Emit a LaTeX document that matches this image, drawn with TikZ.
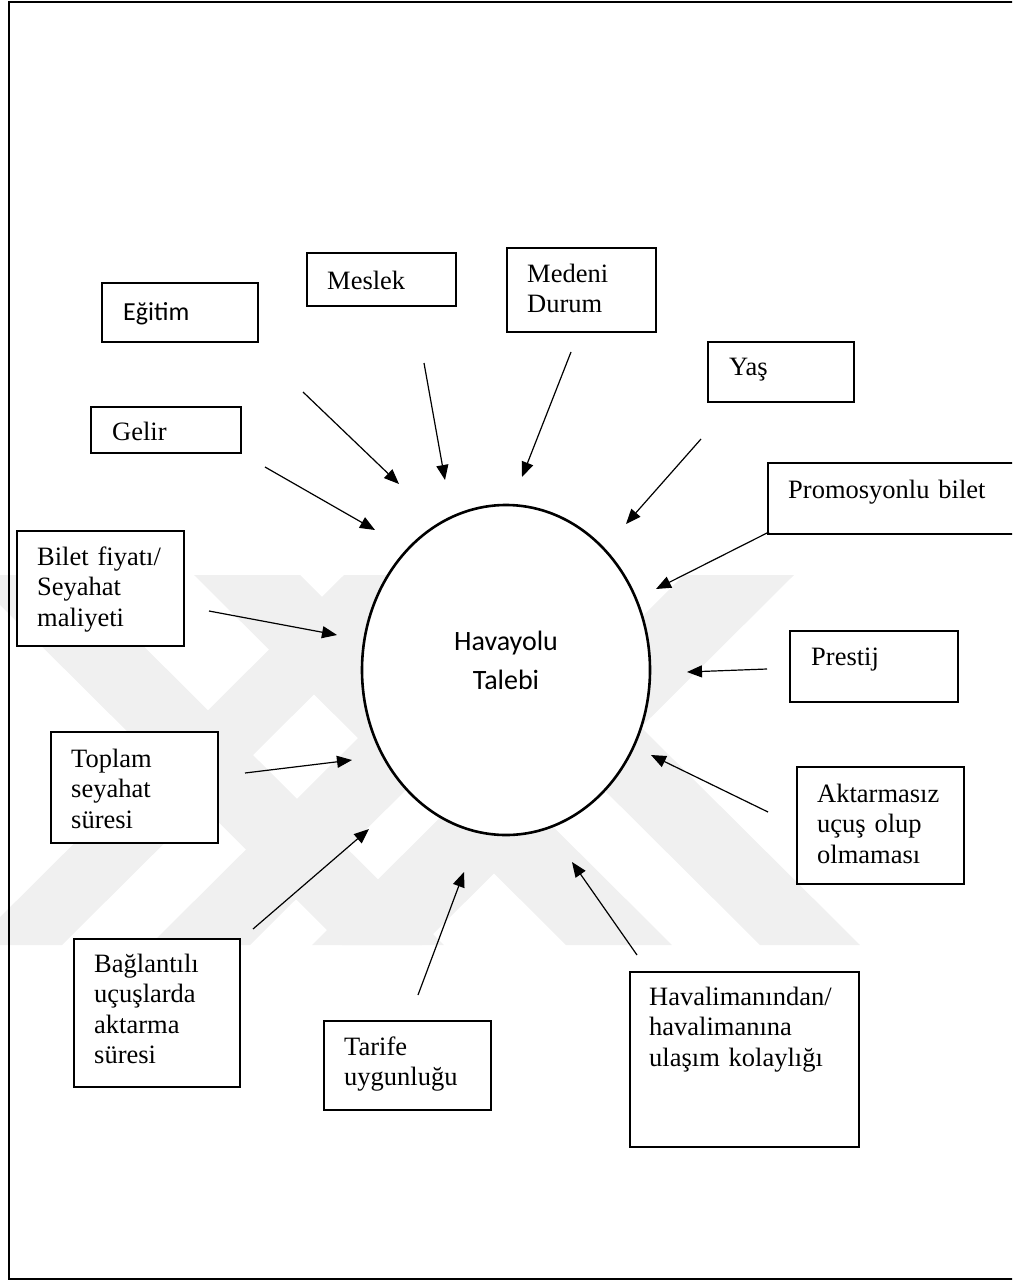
\documentclass[tikz,border=0pt]{standalone}
\usepackage{fontspec}
\setmainfont{Liberation Serif}
\newfontfamily\calib{Carlito}
\usetikzlibrary{arrows.meta,shapes.geometric}
\tikzset{
  box/.style={draw=black, line width=1.3pt, fill=white},
  lbl/.style={anchor=base west, inner sep=0pt, text width=240pt, align=left,
              font=\fontsize{26.5}{30.5}\selectfont},
  arr/.style={line width=1.2pt, -{Triangle[length=15pt,width=12pt]}},
  wm/.style={fill=black!6, draw=none}
}
\begin{document}
\begin{tikzpicture}[x=1pt,y=-1pt]
\useasboundingbox (0,0) rectangle (1012,1281);
\clip (0,0) rectangle (1012,1281);
% watermark (approximate)
\begin{scope}
\clip (0,575) rectangle (1012,945);
\fill[wm] (-30,575) -- (72,575) -- (444,945) -- (342,945) -- cycle;
\fill[wm] (194,575) -- (300,575) -- (672,945) -- (566,945) -- cycle;
\fill[wm] (388,575) -- (488,575) -- (860,945) -- (760,945) -- cycle;
\fill[wm] (-28,945) -- (62,945) -- (434,575) -- (344,575) -- cycle;
\fill[wm] (150,945) -- (250,945) -- (622,575) -- (522,575) -- cycle;
\fill[wm] (312,945) -- (422,945) -- (794,575) -- (684,575) -- cycle;
\end{scope}
% frame
\draw[line width=1.6pt] (1020,2) -- (9,2) -- (9,1279) -- (1020,1279);
% centre
\node[draw, line width=2.6pt, ellipse, fill=white, minimum width=288pt, minimum height=330pt, inner sep=0pt] (hv) at (506,670) {};
\node[inner sep=0pt, align=center, font=\calib\fontsize{28}{39}\selectfont] (hvt) at (506,660) {Havayolu\\Talebi};
% boxes
\draw[box] (102,283) rectangle (258,342) node[pos=0.5] (egb) {};
\node[anchor=base west, inner sep=0pt, font=\calib\fontsize{26}{30}\selectfont] (egt) at (123,320) {Eğitim};
\draw[box] (307,253) rectangle (456,306) node[pos=0.5] (msb) {};
\node[lbl] (mst) at (327,289) {Meslek};
\draw[box] (91,407) rectangle (241,453) node[pos=0.5] (glb) {};
\node[lbl] (glt) at (112,440) {Gelir};
\draw[box] (507,248) rectangle (656,332) node[pos=0.5] (mdb) {};
\node[lbl] (mdt) at (527,282) {Medeni\\Durum};
\draw[box] (708,342) rectangle (854,402) node[pos=0.5] (ysb) {};
\node[lbl] (yst) at (729,375) {Yaş};
\draw[box] (768,463) rectangle (1030,534) node[pos=0.5] (prb) {};
\node[lbl] (prt) at (788,498) {Promosyonlu bilet};
\draw[box] (17,531) rectangle (184,646) node[pos=0.5] (bfb) {};
\node[lbl] (bft) at (37,565) {Bilet fiyatı/\\Seyahat\\maliyeti};
\draw[box] (51,732) rectangle (218,843) node[pos=0.5] (tsb) {};
\node[lbl] (tst) at (71,767) {Toplam\\seyahat\\süresi};
\draw[box] (790,631) rectangle (958,702) node[pos=0.5] (psb) {};
\node[lbl] (pst) at (811,665) {Prestij};
\draw[box] (797,767) rectangle (964,884) node[pos=0.5] (akb) {};
\node[lbl] (akt) at (817,802) {Aktarmasız\\uçuş olup\\olmaması};
\draw[box] (74,939) rectangle (240,1087) node[pos=0.5] (bgb) {};
\node[lbl] (bgt) at (94,972) {Bağlantılı\\uçuşlarda\\aktarma\\süresi};
\draw[box] (324,1021) rectangle (491,1110) node[pos=0.5] (tfb) {};
\node[lbl] (tft) at (344,1055) {Tarife\\uygunluğu};
\draw[box] (630,972) rectangle (859,1147) node[pos=0.5] (hlb) {};
\node[lbl] (hlt) at (649,1005) {Havalimanından/\\havalimanına\\ulaşım kolaylığı};
% arrow end points
\coordinate (eg1) at (303,392); \coordinate (eg2) at (399,484);
\coordinate (ms1) at (424,363); \coordinate (ms2) at (445,480);
\coordinate (gl1) at (265,467); \coordinate (gl2) at (375,530);
\coordinate (md1) at (571,352); \coordinate (md2) at (522,477);
\coordinate (ys1) at (701,439); \coordinate (ys2) at (626,524);
\coordinate (pr1) at (769,532); \coordinate (pr2) at (656,589);
\coordinate (bf1) at (209,611); \coordinate (bf2) at (337,635);
\coordinate (ts1) at (245,773); \coordinate (ts2) at (352,760);
\coordinate (ps1) at (767,669); \coordinate (ps2) at (687,672);
\coordinate (ak1) at (768,812); \coordinate (ak2) at (651,755);
\coordinate (bg1) at (253,929); \coordinate (bg2) at (369,829);
\coordinate (tf1) at (418,995); \coordinate (tf2) at (464,872);
\coordinate (hl1) at (637,955); \coordinate (hl2) at (572,862);
\foreach \a in {eg,ms,gl,md,ys,pr,bf,ts,ps,ak,bg,tf,hl}
  \draw[arr] (\a1) -- (\a2);
\end{tikzpicture}
\end{document}
